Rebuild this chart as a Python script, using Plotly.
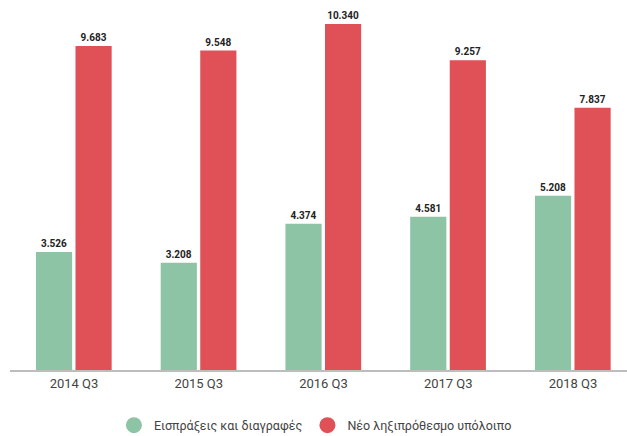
import plotly.graph_objects as go

# Quarterly figures (thousands shown with "." as the thousands separator)
quarters = ["2014 Q3", "2015 Q3", "2016 Q3", "2017 Q3", "2018 Q3"]
collections = [3526, 3208, 4374, 4581, 5208]
new_arrears = [9683, 9548, 10340, 9257, 7837]

series_names = ["Εισπράξεις και διαγραφές", "Νέο ληξιπρόθεσμο υπόλοιπο"]
green = "#8cc4a5"
red = "#df5156"

fig = go.Figure()

label_font = dict(family="Roboto, Arial, sans-serif", size=10, color="#222222")

fig.add_trace(go.Bar(
    x=quarters, y=collections, name=series_names[0],
    marker=dict(color=green, line=dict(width=0)),
    offset=-0.305, width=0.29,
    texttemplate="<b>%{y:,d}</b>", textposition="outside",
    textfont=label_font, cliponaxis=False, showlegend=False,
))
fig.add_trace(go.Bar(
    x=quarters, y=new_arrears, name=series_names[1],
    marker=dict(color=red, line=dict(width=0)),
    offset=0.012, width=0.29,
    texttemplate="<b>%{y:,d}</b>", textposition="outside",
    textfont=label_font, cliponaxis=False, showlegend=False,
))

# Circular legend entries
for name, col in zip(series_names, [green, red]):
    fig.add_trace(go.Scatter(
        x=[None], y=[None], mode="markers", name=name,
        marker=dict(symbol="circle", size=16, color=col),
    ))

fig.update_layout(
    width=627, height=436,
    margin=dict(l=10, r=0, t=2, b=66, autoexpand=False),
    paper_bgcolor="white", plot_bgcolor="white",
    separators=",.",
    barmode="group",
    font=dict(family="Roboto, Arial, sans-serif", size=12, color="#444444"),
    showlegend=True,
    legend=dict(
        orientation="h", x=0.495, xanchor="center",
        yref="container", y=0.024, yanchor="middle",
        font=dict(size=12.5, color="#444444"), itemsizing="trace",
    ),
    xaxis=dict(
        type="category", range=[-0.513, 4.433],
        showline=True, linecolor="#bdbdbd", linewidth=2,
        showgrid=False, ticks="", tickfont=dict(size=13, color="#444444"),
    ),
    yaxis=dict(
        range=[0, 11000], visible=False, showgrid=False, zeroline=False,
    ),
)

fig.write_html("out.html")
